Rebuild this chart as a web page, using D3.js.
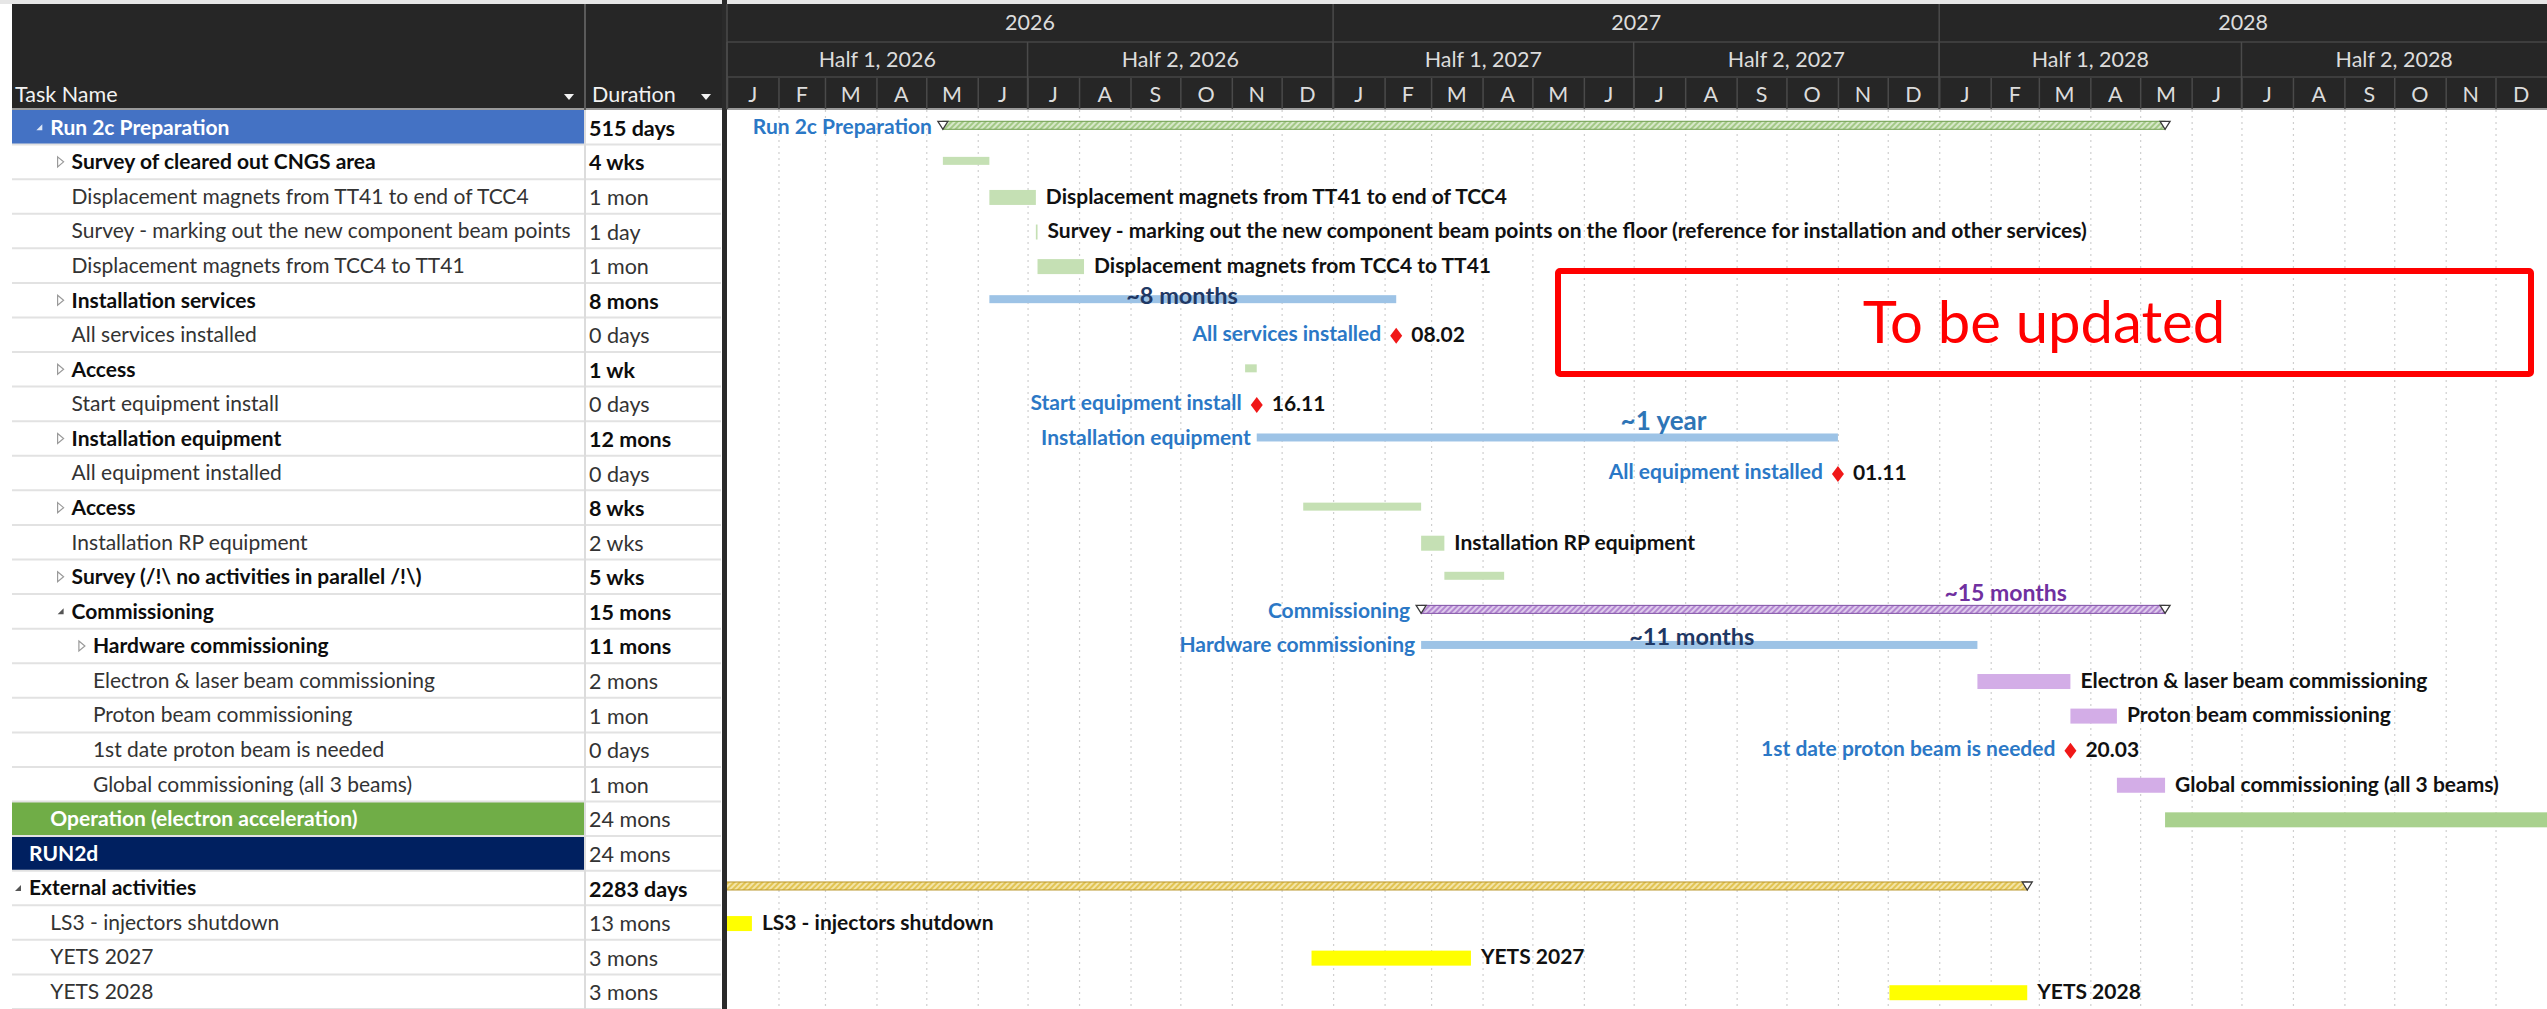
<!DOCTYPE html>
<html>
<head>
<meta charset="utf-8">
<script src="https://cdn.jsdelivr.net/npm/d3@7"></script>
<style>
  html, body { margin: 0; padding: 0; background: #ffffff; overflow: hidden; }
  svg { display: block; font-family: Lato, "Noto Sans", sans-serif; }
</style>
</head>
<body>
<svg id="gantt" width="2547" height="1009"></svg>
<script>
// ---------------------------------------------------------------------------
// Schedule data
// ---------------------------------------------------------------------------
const taskNames = [
  "Run 2c Preparation",
  "Survey of cleared out CNGS area",
  "Displacement magnets from TT41 to end of TCC4",
  "Survey - marking out the new component beam points on the floor (reference for installation and other services)",
  "Displacement magnets from TCC4 to TT41",
  "Installation services",
  "All services installed",
  "Access",
  "Start equipment install",
  "Installation equipment",
  "All equipment installed",
  "Access",
  "Installation RP equipment",
  "Survey (/!\\ no activities in parallel /!\\)",
  "Commissioning",
  "Hardware commissioning",
  "Electron & laser beam commissioning",
  "Proton beam commissioning",
  "1st date proton beam is needed",
  "Global commissioning (all 3 beams)",
  "Operation (electron acceleration)",
  "RUN2d",
  "External activities",
  "LS3 - injectors shutdown",
  "YETS 2027",
  "YETS 2028"
];

const durations = [
  "515 days", "4 wks", "1 mon", "1 day", "1 mon", "8 mons", "0 days", "1 wk",
  "0 days", "12 mons", "0 days", "8 wks", "2 wks", "5 wks", "15 mons", "11 mons",
  "2 mons", "1 mon", "0 days", "1 mon", "24 mons", "24 mons", "2283 days",
  "13 mons", "3 mons", "3 mons"
];

// outline depth of each task in the project tree
const outlineLevels = [2, 3, 3, 3, 3, 3, 3, 3, 3, 3, 3, 3, 3, 3, 3, 4, 4, 4, 4, 4, 2, 1, 1, 2, 2, 2];

// group = expanded summary, summary = collapsed summary, task, milestone
const taskTypes = [
  "group", "summary", "task", "task", "task", "summary", "milestone", "summary",
  "milestone", "summary", "milestone", "summary", "task", "summary", "group", "summary",
  "task", "task", "milestone", "task", "task", "task", "group", "task", "task", "task"
];

// work stream each task belongs to
const workStreams = [
  "prep", "prep", "prep", "prep", "prep", "campaign", "campaign", "prep",
  "campaign", "campaign", "campaign", "prep", "prep", "prep", "beam", "campaign",
  "beam", "beam", "beam", "beam", "operation", "operation", "external",
  "external", "external", "external"
];

const startDates = [
  "2026-05-11", "2026-05-11", "2026-06-08", "2026-07-06", "2026-07-07", "2026-06-08",
  "2027-02-08", "2026-11-09", "2026-11-16", "2026-11-16", "2027-11-01", "2026-12-14",
  "2027-02-23", "2027-03-09", "2027-02-23", "2027-02-23", "2028-01-24", "2028-03-20",
  "2028-03-20", "2028-04-17", "2028-05-16", "2030-05-16", "2019-09-02", "2024-12-16",
  "2026-12-19", "2027-12-02"
];

const endDates = [
  "2028-05-16", "2026-06-08", "2026-07-06", "2026-07-07", "2026-08-04", "2027-02-08",
  "2027-02-08", "2026-11-16", "2026-11-16", "2027-11-01", "2027-11-01", "2027-02-23",
  "2027-03-09", "2027-04-14", "2028-05-16", "2028-01-24", "2028-03-20", "2028-04-17",
  "2028-03-20", "2028-05-16", "2030-05-16", "2032-05-16", "2028-02-23", "2026-01-16",
  "2027-03-25", "2028-02-23"
];

// where the task name is printed next to its bar
const labelSides = [
  "left", "none", "right", "right", "right", "none", "left", "none", "left", "left",
  "left", "none", "right", "none", "left", "left", "right", "right", "left", "right",
  "none", "none", "none", "right", "right", "right"
];

// duration call-outs written over the long bars
const noteTexts = {5: "~8 months", 9: "~1 year", 14: "~15 months", 15: "~11 months"};
const noteDates = {5: "2026-10-02", 9: "2027-07-19", 14: "2028-02-10", 15: "2027-08-05"};

// timeline header labels
const yearLabels = ["2026", "2027", "2028"];
const halfLabels = ["Half 1, 2026", "Half 2, 2026", "Half 1, 2027", "Half 2, 2027", "Half 1, 2028", "Half 2, 2028"];
const monthLetters = ["J", "F", "M", "A", "M", "J", "J", "A", "S", "O", "N", "D"];

const statusNote = "To be updated";

// ---------------------------------------------------------------------------
// Layout
// ---------------------------------------------------------------------------
const W = 2547, H = 1009;
const tableLeft = 12, nameColRight = 585, tableRight = 721;
const chartLeft = 727, chartRight = W;
const headTop = 4, headBottom = 110;
const headRow1 = 42, headRow2 = 77;

const parse = d3.utcParse("%Y-%m-%d");
const fmtDay = d3.utcFormat("%d.%m");

const x = d3.scaleUtc()
  .domain([parse("2026-01-01"), parse("2029-01-01")])
  .range([chartLeft, chartRight]);

const y = d3.scaleBand()
  .domain(d3.range(taskNames.length))
  .range([headBottom, H])
  .paddingInner(0);
const cy = i => y(i) + y.bandwidth() / 2;

const streamColors = {
  prep:      {bar: "#c5e0b4", hatchBg: "#a3c986", hatchFg: "#eef6e6", edge: "#6d9c4d"},
  campaign:  {bar: "#9dc3e6"},
  beam:      {bar: "#d3ade7", hatchBg: "#b287d0", hatchFg: "#f3e8fa", edge: "#7f4fa6"},
  operation: {bar: "#a9d18e"},
  external:  {bar: "#ffff00", hatchBg: "#e2c452", hatchFg: "#fbf2cc", edge: "#b8952a"}
};
const rowHighlight = {0: "#4472c4", 20: "#70ad47", 21: "#002060"};
const noteColors = {5: "#1f3864", 9: "#2e75b6", 14: "#7030a0", 15: "#1f3864"};
const noteSizes = {5: 23.5, 9: 26, 14: 23, 15: 23.5};
const noteLift = {5: 4, 9: 18, 14: 18, 15: 9};
const linkBlue = "#2b78c6";

const nameFont = 21, durFont = 21.5, labelFont = 21, headFont = 21.5;

const svg = d3.select("#gantt");
const defs = svg.append("defs");

Object.entries(streamColors).forEach(([key, c]) => {
  if (!c.hatchBg) return;
  const p = defs.append("pattern")
    .attr("id", "hatch-" + key)
    .attr("patternUnits", "userSpaceOnUse")
    .attr("width", 4).attr("height", 4)
    .attr("patternTransform", "rotate(45)");
  p.append("rect").attr("width", 4).attr("height", 4).attr("fill", c.hatchBg);
  p.append("line").attr("x1", 1).attr("y1", 0).attr("x2", 1).attr("y2", 4)
    .attr("stroke", c.hatchFg).attr("stroke-width", 1.4);
});

defs.append("clipPath").attr("id", "chart-clip")
  .append("rect").attr("x", chartLeft).attr("y", headBottom)
  .attr("width", chartRight - chartLeft).attr("height", H - headBottom);

defs.append("clipPath").attr("id", "name-clip")
  .append("rect").attr("x", tableLeft).attr("y", headBottom)
  .attr("width", nameColRight - tableLeft - 2).attr("height", H - headBottom);

// ---------------------------------------------------------------------------
// Background, header band
// ---------------------------------------------------------------------------
svg.append("rect").attr("width", W).attr("height", H).attr("fill", "#ffffff");
svg.append("rect").attr("x", 0).attr("y", 0).attr("width", W).attr("height", headTop).attr("fill", "#e6e6e6");
svg.append("rect").attr("x", tableLeft).attr("y", headTop)
  .attr("width", W - tableLeft).attr("height", headBottom - headTop).attr("fill", "#262626");
svg.append("line").attr("x1", tableLeft).attr("x2", W).attr("y1", headBottom - 1).attr("y2", headBottom - 1)
  .attr("stroke", "#9a9a9a").attr("stroke-width", 2);

// ---------------------------------------------------------------------------
// Table (left pane)
// ---------------------------------------------------------------------------
const table = svg.append("g");

// highlighted rows
Object.entries(rowHighlight).forEach(([i, col]) => {
  table.append("rect").attr("x", tableLeft).attr("y", y(+i))
    .attr("width", nameColRight - tableLeft).attr("height", y.bandwidth())
    .attr("fill", col);
});

// row rules
table.selectAll("line.rowrule")
  .data(d3.range(taskNames.length))
  .join("line")
  .attr("class", "rowrule")
  .attr("x1", tableLeft).attr("x2", tableRight)
  .attr("y1", i => y(i) + y.bandwidth()).attr("y2", i => y(i) + y.bandwidth())
  .attr("stroke", "#e2e2e2").attr("stroke-width", 2);

// column divider
table.append("line").attr("x1", nameColRight).attr("x2", nameColRight)
  .attr("y1", headTop).attr("y2", headBottom).attr("stroke", "#5a5a5a").attr("stroke-width", 2);
table.append("line").attr("x1", nameColRight).attr("x2", nameColRight)
  .attr("y1", headBottom).attr("y2", H).attr("stroke", "#dcdcdc").attr("stroke-width", 2);

// header captions
table.append("text").attr("x", 15).attr("y", 94).attr("dy", "0.35em")
  .attr("fill", "#f2f2f2").attr("font-size", headFont).text("Task Name");
table.append("text").attr("x", 592).attr("y", 94).attr("dy", "0.35em")
  .attr("fill", "#f2f2f2").attr("font-size", headFont).text("Duration");
[569, 706].forEach(ax => {
  table.append("path").attr("d", `M${ax - 5},${94} L${ax + 5},${94} L${ax},${100} Z`).attr("fill", "#f2f2f2");
});

const textX = i => 29 + (outlineLevels[i] - 1) * 21.3;
const isBold = i => taskTypes[i] === "group" || taskTypes[i] === "summary" || rowHighlight[i] !== undefined;
const isSummaryRow = i => taskTypes[i] === "group" || taskTypes[i] === "summary";

// expand / collapse markers
taskNames.forEach((name, i) => {
  const ex = textX(i) - 11, ey = cy(i);
  const onDark = rowHighlight[i] !== undefined;
  if (taskTypes[i] === "group") {
    table.append("path").attr("d", `M${ex + 3},${ey - 3} L${ex + 3},${ey + 3} L${ex - 3},${ey + 3} Z`)
      .attr("fill", onDark ? "#dde6f5" : "#555555");
  } else if (taskTypes[i] === "summary") {
    table.append("path").attr("d", `M${ex - 3},${ey - 5} L${ex + 3},${ey} L${ex - 3},${ey + 5} Z`)
      .attr("fill", "none").attr("stroke", "#9a9a9a").attr("stroke-width", 1.2);
  }
});

const nameText = table.append("g").attr("clip-path", "url(#name-clip)")
  .selectAll("text")
  .data(d3.range(taskNames.length))
  .join("text")
  .attr("x", textX)
  .attr("y", cy)
  .attr("dy", "0.35em")
  .attr("font-size", nameFont)
  .attr("font-weight", i => isBold(i) ? 700 : 400)
  .attr("fill", i => rowHighlight[i] !== undefined ? "#ffffff" : (isBold(i) ? "#0d0d0d" : "#333333"))
  .text(i => taskNames[i]);

// names longer than the column are cut at a word boundary
nameText.each(function (i) {
  const maxW = nameColRight - textX(i) - 5;
  const t = d3.select(this);
  let words = taskNames[i].split(" ");
  while (this.getComputedTextLength() > maxW && words.length > 1) {
    words.pop();
    t.text(words.join(" "));
  }
});

table.selectAll("text.dur")
  .data(d3.range(durations.length))
  .join("text")
  .attr("class", "dur")
  .attr("x", 589)
  .attr("y", i => cy(i) + 1)
  .attr("dy", "0.35em")
  .attr("font-size", durFont)
  .attr("font-weight", i => isSummaryRow(i) ? 700 : 400)
  .attr("fill", i => isSummaryRow(i) ? "#0d0d0d" : "#333333")
  .text(i => durations[i]);

// pane splitter
svg.append("rect").attr("x", tableRight + 1).attr("y", 0).attr("width", 5).attr("height", H).attr("fill", "#2a2a2a");

// ---------------------------------------------------------------------------
// Timescale header
// ---------------------------------------------------------------------------
const head = svg.append("g");
const months = d3.utcMonth.range(x.domain()[0], x.domain()[1]);
const halves = months.filter(d => d.getUTCMonth() % 6 === 0);
const years = d3.utcYear.range(x.domain()[0], x.domain()[1]);

head.append("line").attr("x1", chartLeft).attr("x2", W).attr("y1", headRow1).attr("y2", headRow1)
  .attr("stroke", "#3d3d3d").attr("stroke-width", 2);
head.append("line").attr("x1", chartLeft).attr("x2", W).attr("y1", headRow2).attr("y2", headRow2)
  .attr("stroke", "#3d3d3d").attr("stroke-width", 2);

// month separators through a d3 axis
const monthAxis = d3.axisBottom(x)
  .tickValues(months)
  .tickSize(headBottom - headRow2 - 2)
  .tickFormat("");
head.append("g").attr("transform", `translate(0,${headRow2 + 1})`).call(monthAxis)
  .call(g => g.select(".domain").remove())
  .call(g => g.selectAll(".tick line").attr("stroke", "#4a4a4a").attr("stroke-width", 1.5));

head.selectAll("text.month")
  .data(months)
  .join("text")
  .attr("class", "month")
  .attr("x", d => (x(d) + x(d3.utcMonth.offset(d, 1))) / 2)
  .attr("y", 94).attr("dy", "0.35em")
  .attr("text-anchor", "middle").attr("font-size", headFont).attr("fill", "#dcdcdc")
  .text(d => monthLetters[d.getUTCMonth()]);

head.selectAll("line.half")
  .data(halves)
  .join("line").attr("class", "half")
  .attr("x1", d => x(d)).attr("x2", d => x(d))
  .attr("y1", headRow1).attr("y2", headBottom - 1)
  .attr("stroke", "#4a4a4a").attr("stroke-width", 1.5);

head.selectAll("text.half")
  .data(halves)
  .join("text").attr("class", "half")
  .attr("x", d => (x(d) + x(d3.utcMonth.offset(d, 6))) / 2)
  .attr("y", 59).attr("dy", "0.35em")
  .attr("text-anchor", "middle").attr("font-size", headFont).attr("fill", "#dcdcdc")
  .text((d, i) => halfLabels[i]);

head.selectAll("line.year")
  .data(years)
  .join("line").attr("class", "year")
  .attr("x1", d => x(d)).attr("x2", d => x(d))
  .attr("y1", headTop).attr("y2", headBottom - 1)
  .attr("stroke", "#4a4a4a").attr("stroke-width", 1.5);

head.selectAll("text.year")
  .data(years)
  .join("text").attr("class", "year")
  .attr("x", d => (x(d) + x(d3.utcYear.offset(d, 1))) / 2)
  .attr("y", 22).attr("dy", "0.35em")
  .attr("text-anchor", "middle").attr("font-size", headFont).attr("fill", "#dcdcdc")
  .text((d, i) => yearLabels[i]);

// ---------------------------------------------------------------------------
// Chart body
// ---------------------------------------------------------------------------
const body = svg.append("g").attr("clip-path", "url(#chart-clip)");

// dotted month grid
const gridAxis = d3.axisBottom(x).tickValues(months.slice(1)).tickSize(H - headBottom).tickFormat("");
body.append("g").attr("transform", `translate(0,${headBottom})`).call(gridAxis)
  .call(g => g.select(".domain").remove())
  .call(g => g.selectAll(".tick line").attr("stroke", "#cfcfcf").attr("stroke-width", 1.2)
    .attr("stroke-dasharray", "2,4"));

const idx = d3.range(taskNames.length);
const xs = i => x(parse(startDates[i]));
const xe = i => x(parse(endDates[i]));

// solid bars (thin for collapsed summaries, full height for tasks)
body.selectAll("rect.bar")
  .data(idx.filter(i => taskTypes[i] === "task" || taskTypes[i] === "summary"))
  .join("rect").attr("class", "bar")
  .attr("x", xs)
  .attr("width", i => Math.max(1.5, xe(i) - xs(i)))
  .attr("y", i => taskTypes[i] === "task" ? cy(i) - 6.5 : cy(i) - 5)
  .attr("height", i => taskTypes[i] === "task" ? 15 : 8)
  .attr("fill", i => streamColors[workStreams[i]].bar);

// hatched group bars with end caps
const groups = idx.filter(i => taskTypes[i] === "group");
body.selectAll("rect.group")
  .data(groups)
  .join("rect").attr("class", "group")
  .attr("x", xs)
  .attr("width", i => xe(i) - xs(i))
  .attr("y", i => cy(i) - 6)
  .attr("height", 8)
  .attr("fill", i => `url(#hatch-${workStreams[i]})`)
  .attr("stroke", i => streamColors[workStreams[i]].edge)
  .attr("stroke-width", 1);

const cap = (px, py) => `M${px - 5},${py} L${px + 5},${py} L${px},${py + 8} Z`;
groups.forEach(i => {
  [xs(i), xe(i)].forEach(px => {
    body.append("path").attr("d", cap(px, cy(i) - 6))
      .attr("fill", "#ffffff").attr("stroke", "#3a3a3a").attr("stroke-width", 1.3);
  });
});

// milestones
const milestones = idx.filter(i => taskTypes[i] === "milestone");
body.selectAll("path.ms")
  .data(milestones)
  .join("path").attr("class", "ms")
  .attr("d", i => {
    const mx = xs(i), my = cy(i) + 1;
    return `M${mx},${my - 8} L${mx + 6},${my} L${mx},${my + 8} L${mx - 6},${my} Z`;
  })
  .attr("fill", "#f01818");

body.selectAll("text.msdate")
  .data(milestones)
  .join("text").attr("class", "msdate")
  .attr("x", i => xs(i) + 15)
  .attr("y", i => cy(i)).attr("dy", "0.35em")
  .attr("font-size", labelFont).attr("font-weight", 700).attr("fill", "#111111")
  .text(i => fmtDay(parse(startDates[i])));

// names written after bars
body.selectAll("text.rlabel")
  .data(idx.filter(i => labelSides[i] === "right"))
  .join("text").attr("class", "rlabel")
  .attr("x", i => xe(i) + 10)
  .attr("y", i => cy(i)).attr("dy", "0.35em")
  .attr("font-size", labelFont).attr("font-weight", 700).attr("fill", "#111111")
  .text(i => taskNames[i]);

// names written before bars
const leftGap = i => taskTypes[i] === "milestone" ? 15 : (taskTypes[i] === "group" ? 11 : 6);
body.selectAll("text.llabel")
  .data(idx.filter(i => labelSides[i] === "left"))
  .join("text").attr("class", "llabel")
  .attr("x", i => xs(i) - leftGap(i))
  .attr("y", i => cy(i) - 1).attr("dy", "0.35em")
  .attr("text-anchor", "end")
  .attr("font-size", labelFont).attr("font-weight", 700).attr("fill", linkBlue)
  .text(i => taskNames[i]);

// duration call-outs
body.selectAll("text.note")
  .data(Object.keys(noteTexts).map(Number))
  .join("text").attr("class", "note")
  .attr("x", i => x(parse(noteDates[i])))
  .attr("y", i => cy(i) - noteLift[i]).attr("dy", "0.35em")
  .attr("text-anchor", "middle")
  .attr("font-size", i => noteSizes[i]).attr("font-weight", 700)
  .attr("fill", i => noteColors[i])
  .text(i => noteTexts[i]);

// status box
const box = svg.append("g");
box.append("rect").attr("x", 1558).attr("y", 271).attr("width", 973).attr("height", 103)
  .attr("fill", "none").attr("stroke", "#ff0000").attr("stroke-width", 6).attr("rx", 2);
box.append("text").attr("x", 2044).attr("y", 323).attr("dy", "0.35em")
  .attr("text-anchor", "middle").attr("font-size", 58).attr("fill", "#ff0000")
  .text(statusNote);
</script>
</body>
</html>
